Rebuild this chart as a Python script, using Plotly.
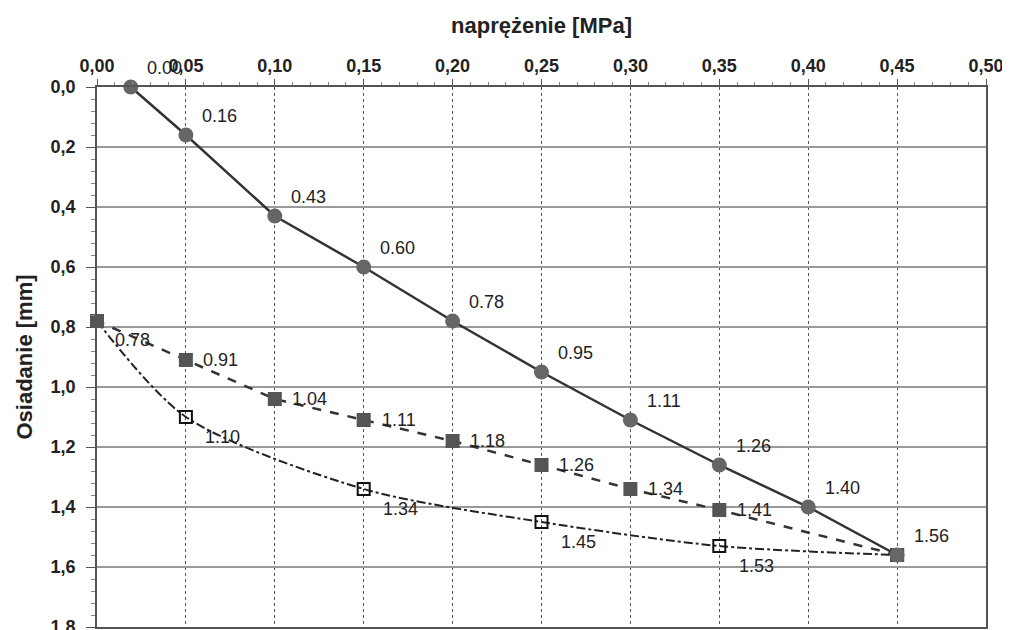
import plotly.graph_objects as go

# loading
load_x = [0.019, 0.05, 0.10, 0.15, 0.20, 0.25, 0.30, 0.35, 0.40, 0.45]
load_y = [0.00, 0.16, 0.43, 0.60, 0.78, 0.95, 1.11, 1.26, 1.40, 1.56]
# unloading
unload_x = [0.45, 0.35, 0.30, 0.25, 0.20, 0.15, 0.10, 0.05, 0.00]
unload_y = [1.56, 1.41, 1.34, 1.26, 1.18, 1.11, 1.04, 0.91, 0.78]
# reloading
reload_x = [0.00, 0.05, 0.15, 0.25, 0.35, 0.45]
reload_y = [0.78, 1.10, 1.34, 1.45, 1.53, 1.56]

x_ticks = [0.00, 0.05, 0.10, 0.15, 0.20, 0.25, 0.30, 0.35, 0.40, 0.45, 0.50]
y_ticks = [0.0, 0.2, 0.4, 0.6, 0.8, 1.0, 1.2, 1.4, 1.6, 1.8]

FONT = "Liberation Sans, Arial, sans-serif"
BODY = 8  # default page margin of the html body

fig = go.Figure()

fig.add_trace(go.Scatter(
    x=reload_x, y=reload_y, mode="lines+markers",
    line=dict(color="#222", width=2, dash="dashdot", shape="spline", smoothing=0.8),
    marker=dict(symbol="square-open", size=12, color="#111", line=dict(width=2)),
    cliponaxis=False, showlegend=False))

fig.add_trace(go.Scatter(
    x=unload_x, y=unload_y, mode="lines+markers",
    line=dict(color="#333", width=2.5, dash="dash"),
    marker=dict(symbol="square", size=14, color="#555", line=dict(width=0)),
    cliponaxis=False, showlegend=False))

fig.add_trace(go.Scatter(
    x=load_x, y=load_y, mode="lines+markers",
    line=dict(color="#333", width=2.5),
    marker=dict(symbol="circle", size=15, color="#666", line=dict(width=0)),
    cliponaxis=False, showlegend=False))

annotations = []
def lab(x, y, dx, dy):
    annotations.append(dict(x=x, y=y, text=f"{y:.2f}", showarrow=False,
                             xshift=dx, yshift=dy,
                             font=dict(family=FONT, size=18, color="#222")))

for x, y in zip(load_x, load_y):
    lab(x, y, 34, 19)
for x, y in zip(unload_x[1:-1], unload_y[1:-1]):
    lab(x, y, 35, 0)
lab(unload_x[-1], unload_y[-1], 35, -19)
for x, y in zip(reload_x[1:-1], reload_y[1:-1]):
    lab(x, y, 37, -20)

fig.update_layout(
    width=1010, height=630,
    margin=dict(l=97 - BODY, r=24 + BODY, t=87 - BODY, b=3 + BODY, autoexpand=False),
    paper_bgcolor="white", plot_bgcolor="white",
    separators=", ",
    font=dict(family=FONT, color="#222"),
    annotations=annotations,
    xaxis=dict(
        side="top", range=[0, 0.5], tickvals=x_ticks, tickformat=".2f",
        automargin=False,
        title=dict(text="<b>naprężenie [MPa]</b>", font=dict(size=22, family=FONT, color="#222"), standoff=16),
        tickfont=dict(size=18, family=FONT, color="#222", weight="bold"),
        showgrid=True, gridcolor="#555", griddash="dot", gridwidth=1,
        showline=True, linecolor="#555", linewidth=1.5, mirror=True,
        ticks="outside", ticklen=6, tickcolor="#555",
        minor=dict(ticks="outside", ticklen=3, tickcolor="#888", dtick=0.01, showgrid=False),
        zeroline=False),
    yaxis=dict(
        range=[1.8, 0], tickvals=y_ticks, tickformat=".1f",
        automargin=False,
        title=dict(text="<b>Osiadanie [mm]</b>", font=dict(size=22, family=FONT, color="#222"), standoff=12),
        tickfont=dict(size=18, family=FONT, color="#222", weight="bold"),
        ticklabelstandoff=7,
        showgrid=True, gridcolor="#999", gridwidth=1.5,
        showline=True, linecolor="#555", linewidth=1.5, mirror=True,
        ticks="outside", ticklen=9, tickcolor="#555",
        minor=dict(ticks="outside", ticklen=4, tickcolor="#888", dtick=0.04, showgrid=False),
        zeroline=False),
)

fig.write_html("out.html")
